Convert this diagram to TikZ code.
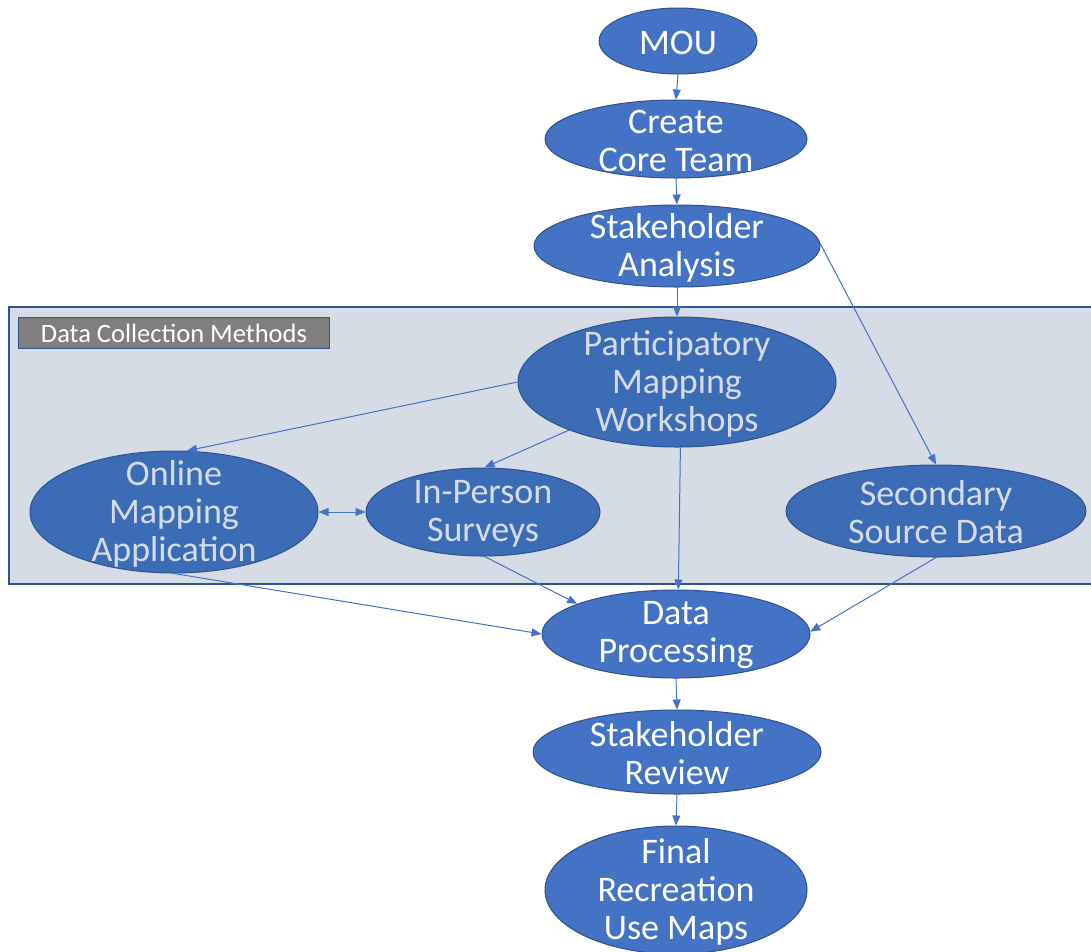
\documentclass[tikz,border=0pt]{standalone}
\usepackage{fontspec}
\setmainfont{Carlito}
\usetikzlibrary{arrows.meta,shapes.geometric}
\definecolor{nodeblue}{HTML}{4472C4}
\definecolor{nodeedge}{HTML}{2F528F}
\definecolor{innerblue}{HTML}{3C6CB6}
\definecolor{innertext}{HTML}{D5DCE6}
\definecolor{panelfill}{HTML}{D6DCE5}
\definecolor{paneledge}{HTML}{2F5597}
\definecolor{tagfill}{HTML}{7F7F7F}
\definecolor{edgeblue}{HTML}{4472C4}
\begin{document}
\begin{tikzpicture}[x=1pt,y=-1pt,
  stage/.style={ellipse,draw=nodeedge,line width=1pt,fill=nodeblue,inner sep=0pt},
  inner stage/.style={stage,fill=innerblue},
  stagetext/.style={text=white,align=center,inner sep=0pt,yshift=-1.5pt,font=\fontsize{36}{38}\selectfont},
  innertextstyle/.style={stagetext,text=innertext},
  flow/.style={draw=edgeblue,line width=1pt,-{Triangle[length=10pt,width=8pt]}},
  both/.style={draw=edgeblue,line width=1pt,{Triangle[length=10pt,width=8pt]}-{Triangle[length=10pt,width=8pt]}}
]
\useasboundingbox (0,0) rectangle (1091,951);

% panel
\node[draw=paneledge,fill=panelfill,line width=1.5pt,inner sep=0pt,anchor=north west,
      minimum width=1085,minimum height=277] (panel) at (8,306) {};
\node[draw=paneledge,fill=tagfill,line width=1pt,text=white,anchor=north west,inner sep=0pt,
      minimum width=311,minimum height=31,font=\fontsize{26.5}{28}\selectfont] (tag) at (18,317) {Data Collection Methods};

% outer stages
\node[stage,minimum width=158,minimum height=66] (mou) at (678,41) {};
\node[stagetext] (mou-t) at (mou) {MOU};
\node[stage,minimum width=262,minimum height=78] (core) at (676,139) {};
\node[stagetext] (core-t) at (core) {Create\\Core Team};
\node[stage,minimum width=286,minimum height=82] (sa) at (677,246) {};
\node[stagetext] (sa-t) at (sa) {Stakeholder\\Analysis};

% inner stages
\node[inner stage,minimum width=318,minimum height=130] (pmw) at (677,382) {};
\node[innertextstyle] (pmw-t) at (pmw) {Participatory\\Mapping\\Workshops};
\node[inner stage,minimum width=288,minimum height=122] (oma) at (174,512) {};
\node[innertextstyle] (oma-t) at (oma) {Online\\Mapping\\Application};
\node[inner stage,minimum width=234,minimum height=88] (ips) at (483,512) {};
\node[innertextstyle] (ips-t) at (ips) {In-Person\\Surveys};
\node[inner stage,minimum width=300,minimum height=92] (ssd) at (936,511) {};
\node[innertextstyle] (ssd-t) at (ssd) {Secondary\\Source Data};

% lower stages
\node[stage,minimum width=268,minimum height=88] (dp) at (676,634) {};
\node[stagetext] (dp-t) at (dp) {Data\\Processing};
\node[stage,minimum width=288,minimum height=84] (srv) at (677,752) {};
\node[stagetext] (srv-t) at (srv) {Stakeholder\\Review};
\node[stage,minimum width=262,minimum height=128] (final) at (676,890) {};
\node[stagetext] (final-t) at (final) {Final\\Recreation\\Use Maps};

% connectors
\draw[flow] (mou.south) -- (core.north);
\draw[flow] (core.south) -- (sa.north);
\draw[flow] (sa.south) -- (pmw.north);
\draw[flow] (sa.1) -- (ssd.north);
\draw[flow] (pmw.180) -- (oma.78);
\draw[flow] (pmw.204) -- (ips.88);
\draw[flow] (pmw.273) -- (dp.87);
\draw[both] (oma.east) -- (ips.west);
\draw[flow] (oma.south) -- (dp.west);
\draw[flow] (ips.272) -- (dp.163);
\draw[flow] (ssd.south) -- (dp.1);
\draw[flow] (dp.south) -- (srv.north);
\draw[flow] (srv.south) -- (final.north);
\end{tikzpicture}
\end{document}
